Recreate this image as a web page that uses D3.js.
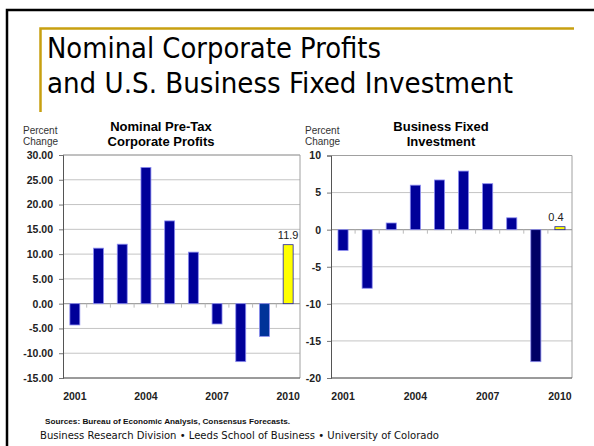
<!DOCTYPE html>
<html>
<head>
<meta charset="utf-8">
<script src="https://d3js.org/d3.v7.min.js"></script>
<style>
  body { margin: 0; background: #fff; }
  svg text { font-family: "Liberation Sans", Arial, sans-serif; }
  .title { font-family: "DejaVu Sans Condensed", "DejaVu Sans", sans-serif !important; font-size: 28px; fill: #000; }
  .ctitle { font-weight: bold; font-size: 13px; fill: #000; text-anchor: middle; }
  .unit { font-size: 10px; fill: #333; }
  .tick text { font-weight: bold; font-size: 10.5px; fill: #222; }
</style>
</head>
<body>
<svg id="chart" width="594" height="446"></svg>
<script>
// values
const years = ['2001', '2002', '2003', '2004', '2005', '2006', '2007', '2008', '2009', '2010'];
const yearLabels = ['2001', '2004', '2007', '2010'];
const profits = [-4.3, 11.2, 12.0, 27.5, 16.7, 10.4, -4.1, -11.7, -6.6, 11.9];
const investment = [-2.8, -7.9, 0.9, 6.0, 6.7, 7.9, 6.2, 1.6, -17.8, 0.4];
const profitTicks = [-15, -10, -5, 0, 5, 10, 15, 20, 25, 30];
const investTicks = [-20, -15, -10, -5, 0, 5, 10];

const svg = d3.select('#chart');
svg.append('rect').attr('width', 594).attr('height', 446).attr('fill', '#fff');

// slide frame
svg.append('path').attr('d', 'M7,446 V10 H594')
  .attr('fill', 'none').attr('stroke', '#000').attr('stroke-width', 2.5);
svg.append('path').attr('d', 'M40.5,112 V28.5 H574')
  .attr('fill', 'none').attr('stroke', '#c8a010').attr('stroke-width', 2.5);

svg.append('text').attr('class', 'title').attr('x', 47).attr('y', 57.5)
  .attr('textLength', 334).attr('lengthAdjust', 'spacingAndGlyphs')
  .text('Nominal Corporate Profits');
svg.append('text').attr('class', 'title').attr('x', 47).attr('y', 92.5)
  .attr('textLength', 466).attr('lengthAdjust', 'spacingAndGlyphs')
  .text('and U.S. Business Fixed Investment');

function barChart(opt) {
  const x = d3.scaleBand().domain(years)
    .range([opt.left, opt.right]).paddingInner(0.58).paddingOuter(0.29);
  const y = d3.scaleLinear().domain(opt.domain).range([opt.bottom, opt.top]);
  const g = svg.append('g');

  // gridlines
  g.selectAll('line.grid').data(opt.ticks).join('line')
    .attr('x1', opt.left).attr('x2', opt.right)
    .attr('y1', d => y(d)).attr('y2', d => y(d))
    .attr('stroke', '#c4c4c4').attr('stroke-width', 1);

  // frame: top/right light, left/bottom dark
  g.append('path')
    .attr('d', `M${opt.left},${opt.top} H${opt.right} V${opt.bottom}`)
    .attr('fill', 'none').attr('stroke', '#a0a0a0');
  g.append('line').attr('x1', opt.left).attr('x2', opt.right)
    .attr('y1', opt.bottom).attr('y2', opt.bottom).attr('stroke', '#555');

  // category ticks on the zero line
  const step = x.step();
  g.append('line').attr('x1', opt.left).attr('x2', opt.right)
    .attr('y1', y(0)).attr('y2', y(0)).attr('stroke', '#999');
  g.selectAll('line.ct').data(d3.range(1, years.length)).join('line')
    .attr('x1', i => opt.left + i * step).attr('x2', i => opt.left + i * step)
    .attr('y1', y(0)).attr('y2', y(0) + 4).attr('stroke', '#bbb');

  const ax = g.append('g').attr('transform', `translate(${opt.left},0)`)
    .call(d3.axisLeft(y).tickValues(opt.ticks).tickSize(4).tickPadding(6)
      .tickFormat(d => d.toFixed(opt.digits)));
  ax.select('.domain').attr('stroke', '#555');
  ax.selectAll('.tick line').attr('stroke', '#777');

  // bars
  g.selectAll('rect.bar').data(opt.values).join('rect')
    .attr('x', (d, i) => x(years[i]))
    .attr('width', x.bandwidth())
    .attr('y', d => y(Math.max(0, d)))
    .attr('height', d => Math.abs(y(d) - y(0)))
    .attr('fill', (d, i) => i === 9 ? '#ffff00' : (i === 8 ? opt.col09 : '#000099'))
    .attr('stroke', (d, i) => i === 9 ? '#1f1fa8' : '#8c8cf0')
    .attr('stroke-width', 0.8);

  // forecast label
  const last = opt.values.length - 1;
  g.append('text')
    .attr('x', x(years[last]) + x.bandwidth() / 2 - opt.lblShift)
    .attr('y', y(opt.values[last]) - 6)
    .attr('text-anchor', 'middle').attr('font-size', 11).attr('fill', '#222')
    .text(opt.values[last].toFixed(1));

  // year labels
  g.selectAll('text.yr').data(yearLabels).join('text')
    .attr('x', d => x(d) + x.bandwidth() / 2).attr('y', 400)
    .attr('text-anchor', 'middle').attr('font-size', 10.5)
    .attr('font-weight', 'bold').attr('fill', '#222')
    .text(d => d);

  g.append('text').attr('class', 'unit').attr('x', opt.unitX).attr('y', 134).text('Percent');
  g.append('text').attr('class', 'unit').attr('x', opt.unitX).attr('y', 145).text('Change');
  g.append('text').attr('class', 'ctitle').attr('x', opt.titleX).attr('y', 131).text(opt.title[0]);
  g.append('text').attr('class', 'ctitle').attr('x', opt.titleX).attr('y', 145.5).text(opt.title[1]);
}

barChart({
  left: 63, right: 300, top: 155, bottom: 378,
  domain: [-15, 30], ticks: profitTicks, values: profits,
  digits: 2, col09: '#003399', lblShift: 0,
  unitX: 23, titleX: 161, title: ['Nominal Pre-Tax', 'Corporate Profits']
});

barChart({
  left: 331, right: 572, top: 155.5, bottom: 378,
  domain: [-20, 10], ticks: investTicks, values: investment,
  digits: 0, col09: '#000066', lblShift: 4,
  unitX: 305, titleX: 441, title: ['Business Fixed', 'Investment']
});

// footer
svg.append('text').attr('x', 45).attr('y', 424).attr('font-size', 7.5)
  .attr('font-weight', 'bold').attr('fill', '#111')
  .attr('textLength', 245).attr('lengthAdjust', 'spacingAndGlyphs')
  .text('Sources: Bureau of Economic Analysis, Consensus Forecasts.');
svg.append('text').attr('x', 40).attr('y', 439).attr('font-size', 11)
  .attr('fill', '#111')
  .style('font-family', '"DejaVu Sans Condensed", "DejaVu Sans", sans-serif')
  .attr('textLength', 399).attr('lengthAdjust', 'spacingAndGlyphs')
  .text('Business Research Division \u2022 Leeds School of Business \u2022 University of Colorado');
</script>
</body>
</html>
